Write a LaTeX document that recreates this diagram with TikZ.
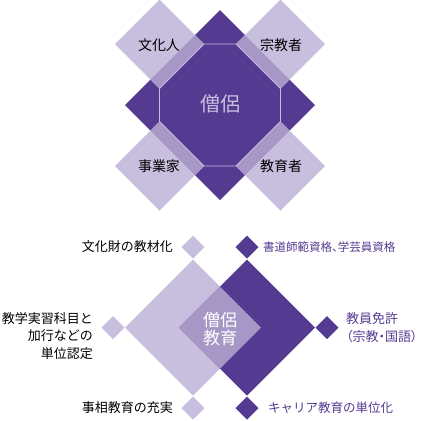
\documentclass[tikz,border=0pt]{standalone}
\usepackage{fontspec}
\setmainfont{Noto Sans CJK JP}
\newfontfamily\pjp[RawFeature=+palt]{Noto Sans CJK JP}
\definecolor{dk}{HTML}{553A92}
\definecolor{lt}{HTML}{C8BFDF}
\definecolor{md}{HTML}{A797C6}
\begin{document}
\begin{tikzpicture}[x=1pt,y=-1pt,
  lbl/.style={font=\fontsize{13}{15}\selectfont, text=black, inner sep=0},
  plbl/.style={font=\fontsize{12.5}{15}\selectfont, text=dk, inner sep=0}]
\useasboundingbox (0,0) rectangle (424,421);
% ---------- top figure ----------
\fill[dk] (220,10) -- (315,105) -- (220,200) -- (125,105) -- cycle;
\foreach \cx/\cy in {159.5/44, 280.5/44, 159.5/166, 280.5/166}{
  \fill[lt] (\cx,\cy-44.5) -- (\cx+44.5,\cy) -- (\cx,\cy+44.5) -- (\cx-44.5,\cy) -- cycle;
}
\begin{scope}
\clip (220,10) -- (315,105) -- (220,200) -- (125,105) -- cycle;
\foreach \cx/\cy in {159.5/44, 280.5/44, 159.5/166, 280.5/166}{
  \fill[md] (\cx,\cy-44.5) -- (\cx+44.5,\cy) -- (\cx,\cy+44.5) -- (\cx-44.5,\cy) -- cycle;
}
\end{scope}
\draw[lt, line width=0.8pt] (204,44) -- (236,44) -- (280.5,88.5) -- (280.5,121.5) -- (236,166) -- (204,166) -- (159.5,121.5) -- (159.5,88.5) -- cycle;
\node[font=\fontsize{20}{22}\selectfont, text=lt] (sou) at (220,104) {僧侶};
\node[font=\fontsize{14}{16}\selectfont] (bun) at (159,45) {文化人};
\node[font=\fontsize{14}{16}\selectfont] (shu) at (281,45) {宗教者};
\node[font=\fontsize{14}{16}\selectfont] (jig) at (159,166) {事業家};
\node[font=\fontsize{14}{16}\selectfont] (kyo) at (281,166) {教育者};
% ---------- bottom figure ----------
\fill[lt] (193,259.5) -- (261,327.5) -- (193,395.5) -- (125,327.5) -- cycle;
\fill[dk] (247,259.5) -- (315,327.5) -- (247,395.5) -- (179,327.5) -- cycle;
\fill[md] (220,286.5) -- (261,327.5) -- (220,368.5) -- (179,327.5) -- cycle;
\node[font=\fontsize{17}{19}\selectfont, text=white, align=center, inner sep=0] (se) at (220,329) {僧侶\\[-1pt]教育};
\foreach \cx/\cy/\c in {193/247/lt, 247/247/dk, 113/327.5/lt, 327/327.5/dk, 193/408/lt, 247/408/dk}{
  \fill[\c] (\cx,\cy-11.5) -- (\cx+11.5,\cy) -- (\cx,\cy+11.5) -- (\cx-11.5,\cy) -- cycle;
}
\node[lbl, anchor=east] (t1) at (173,247) {文化財の教材化};
\node[plbl, anchor=west, font=\pjp\fontsize{11.5}{13}\selectfont] (t2) at (263,247) {書道師範資格、学芸員資格};
\node[lbl, anchor=east, align=right, font=\fontsize{13}{17.5}\selectfont] (t3) at (93,336) {教学実習科目と\\加行などの\\単位認定};
\node[plbl, anchor=west, align=left, font=\pjp\fontsize{13}{18}\selectfont] (t4) at (346,328) {教員免許\\（宗教・国語）};
\node[lbl, anchor=east] (t5) at (173,408) {事相教育の充実};
\node[plbl, anchor=west] (t6) at (268,408) {キャリア教育の単位化};
\end{tikzpicture}
\end{document}
